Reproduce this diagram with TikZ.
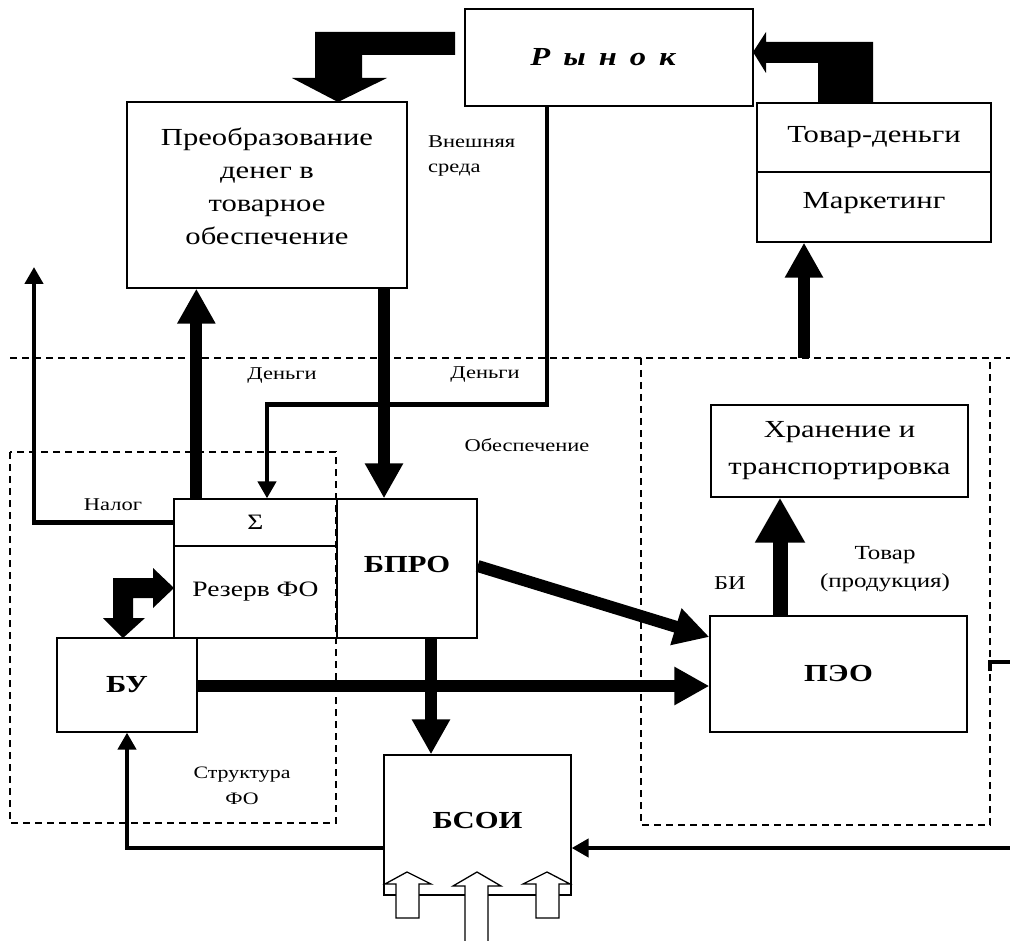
\documentclass[tikz,border=0pt]{standalone}
\usepackage{fontspec}
\setmainfont{Liberation Serif}[FakeStretch=1.25]
\usetikzlibrary{arrows.meta,calc}
\newcommand{\lift}[2]{\raisebox{#1}[\height][\depth]{\begin{tabular}{@{}c@{}}#2\end{tabular}}}
\begin{document}
\begin{tikzpicture}[x=1pt,y=-1pt,
  box/.style={draw, line width=1.3pt, inner sep=0pt, align=center, font=\fontsize{24.5}{33}\selectfont},
  bbox/.style={box, font=\fontsize{24.5}{33}\selectfont\bfseries},
  lbl/.style={inner sep=0pt, align=center, font=\fontsize{18}{25}\selectfont},
  fat/.style={line width=12pt, -{Triangle[length=35pt,width=36pt]}},
  bigfat/.style={line width=15pt, -{Triangle[length=45pt,width=47pt]}},
  conn/.style={line width=4.5pt, -{Triangle[length=17pt,width=18pt]}},
  plainline/.style={line width=4.5pt},
  dsh/.style={line width=1.2pt, dash pattern=on 7pt off 5pt},
  hollow/.style={draw, fill=white, line width=1.3pt},
  blk/.style={fill=black}
]
\useasboundingbox (0,0) rectangle (1010,941);

% dashed regions
\draw[dsh] (10,358) -- (1010,358);
\draw[dsh] (10,452) rectangle (336,823);
\draw[dsh] (641,358) rectangle (990,825);

% boxes
\node[box, minimum width=288pt, minimum height=97pt, font=\fontsize{26}{30}\selectfont\bfseries\itshape] (rynok) at (609,57.5) {Р\hspace{0.5em}ы\hspace{0.5em}н\hspace{0.5em}о\hspace{0.5em}к\hspace{12pt}};
\node[box, minimum width=280pt, minimum height=186pt] (preob) at (267,195) {\lift{6.5pt}{Преобразование\\денег в\\товарное\\обеспечение}};
\node[box, minimum width=234pt, minimum height=69pt] (tovden) at (874,137.5) {\lift{1.5pt}{Товар-деньги}};
\node[box, minimum width=234pt, minimum height=70pt] (mark) at (874,207) {\lift{5pt}{Маркетинг}};
\node[box, minimum width=257pt, minimum height=92pt, font=\fontsize{24.5}{37}\selectfont] (hran) at (839.5,451) {\lift{2pt}{Хранение и\\транспортировка}};
\node[box, minimum width=163pt, minimum height=47pt, font=\fontsize{22}{30}\selectfont] (sigma) at (255.5,522.5) {Σ};
\node[box, minimum width=163pt, minimum height=92pt, font=\fontsize{22}{30}\selectfont] (rezerv) at (255.5,592) {Резерв ФО};
\node[bbox, minimum width=140pt, minimum height=139pt] (bpro) at (407,568.5) {\lift{3pt}{БПРО}};
\node[bbox, minimum width=140pt, minimum height=94pt] (bu) at (127,685) {БУ};
\node[bbox, minimum width=257pt, minimum height=116pt] (peo) at (838.5,674) {ПЭО};
\node[bbox, minimum width=187pt, minimum height=140pt] (bsoi) at (477.5,825) {\lift{3pt}{БСОИ}};

% labels
\node[lbl, anchor=west, align=left] (vneshn) at (428,156) {Внешняя\\среда};
\node[lbl] (den1) at (282,376) {Деньги};
\node[lbl] (den2) at (485,375) {Деньги};
\node[lbl] (obesp) at (527,445) {Обеспечение};
\node[lbl] (nalog) at (113,505) {Налог};
\node[lbl, font=\fontsize{17.5}{26}\selectfont] (strukt) at (242,786) {Структура\\ФО};
\node[lbl, font=\fontsize{19.5}{28}\selectfont] (bi) at (730,583) {БИ};
\node[lbl, font=\fontsize{20}{28}\selectfont] (tovar) at (885,569) {Товар\\(продукция)};

% big bent arrows
\fill[blk] (455,32) -- (315,32) -- (315,78) -- (292,78) -- (338,102) -- (387,78) -- (362,78) -- (362,55) -- (455,55) -- cycle;
\fill[blk] (873,102) -- (873,42) -- (766,42) -- (766,32) -- (753,52) -- (766,73) -- (766,63) -- (818,63) -- (818,102) -- cycle;
\fill[blk] (113,578) -- (153,578) -- (153,568) -- (174,588) -- (153,608) -- (153,598) -- (133,598) -- (133,618) -- (145,618) -- (123,638) -- (103,618) -- (113,618) -- cycle;

% fat arrows
\draw[fat] ([xshift=-23pt]bpro.north |- preob.south) -- ([xshift=-23pt]bpro.north);
\draw[fat] ([xshift=23pt]sigma.north west) -- ([xshift=23pt]sigma.north west |- preob.south);
\draw[fat] ([xshift=24pt]bpro.south) -- ([xshift=24pt]bpro.south |- bsoi.north);
\draw[fat] ([yshift=-1pt]bu.east) -- ([yshift=-1pt]bu.east -| peo.west);
\draw[fat] ([yshift=2.5pt]bpro.east) -- ([yshift=37pt]peo.west);
\draw[bigfat] ([xshift=-58.5pt]peo.north) -- ([xshift=-58.5pt]peo.north |- hran.south);
\coordinate (dl) at (804,358);
\draw[fat] (dl) -- (dl |- mark.south);

% thin connectors
\draw[conn] ([xshift=-62pt]rynok.south) -- ++(0,298) -| ([xshift=11.5pt]sigma.north);
\coordinate (taxend) at (34,267);
\draw[conn] (sigma.west) -| (taxend);
\draw[conn] ([yshift=-23pt]bsoi.west) -| (bu.south);
\coordinate (rin) at (1010,848);
\draw[conn] (rin) -- (rin -| bsoi.east);
\coordinate (stub) at (1010,662);
\draw[plainline] (990,671) -- (990,662) -- (stub);

% hollow arrows under BSOI
\draw[hollow] (396,918) -- (396,884) -- (385,884) -- (407,872) -- (431,884) -- (419,884) -- (419,918) -- cycle;
\draw[hollow] (465,945) -- (465,886) -- (453,886) -- (477,872) -- (501,886) -- (488,886) -- (488,945);
\draw[hollow] (536,918) -- (536,884) -- (523,884) -- (547,872) -- (570,884) -- (559,884) -- (559,918) -- cycle;
\end{tikzpicture}
\end{document}
